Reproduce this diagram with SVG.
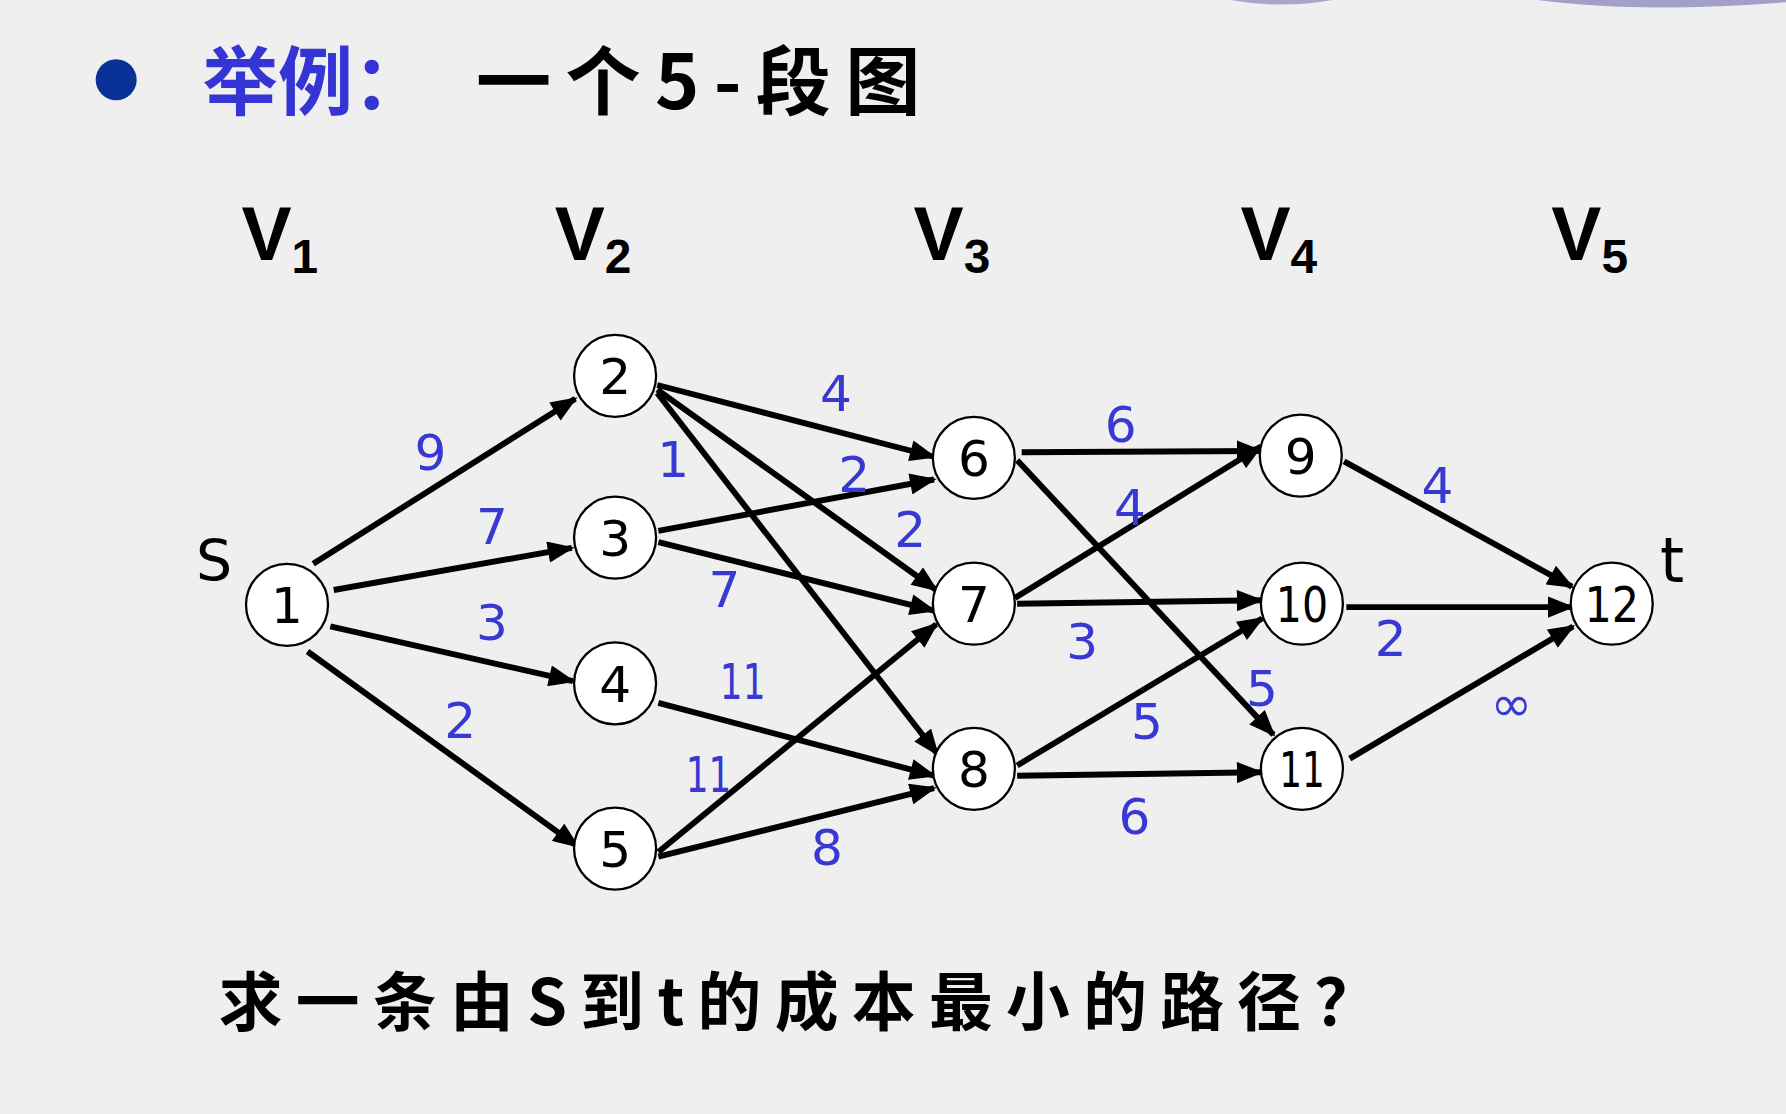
<svg xmlns="http://www.w3.org/2000/svg" width="1786" height="1114" viewBox="0 0 1786 1114">
<style>
.node circle{fill:#ffffff;stroke:#000;stroke-width:2}
.node text{font-family:"DejaVu Sans","Liberation Sans",sans-serif;font-size:44px;fill:#000;text-anchor:middle}
.edge{stroke:#000;stroke-width:5.2;fill:none;marker-end:url(#arr)}
.w{font-family:"DejaVu Sans","Liberation Sans",sans-serif;font-size:44px;fill:#3838d2;text-anchor:middle}
.V{font-family:"Liberation Sans","DejaVu Sans",sans-serif;font-weight:bold;font-size:66px;fill:#000}
.Vs{font-size:42px}
.cn{font-family:"Noto Sans CJK SC","Noto Sans CJK JP",sans-serif;font-weight:bold}
</style>
<defs>
<marker id="arr" viewBox="0 0 10 8" markerWidth="4.6" markerHeight="3.6" refX="9" refY="4" orient="auto">
<path d="M0,0 L10,4 L0,8 Z" fill="#000"/>
</marker>
</defs>
<rect x="0" y="0" width="1786" height="1114" fill="#efefef"/>
<g transform="scale(1.13903)">
<g id="decor">
<path d="M1080,0 Q1125,8 1170,0 Z" fill="#a6a6cc"/>
<path d="M1350,0 Q1440,12 1568,2 L1568,0 Z" fill="#a0a0c8"/>
</g>
<g id="title">
<circle cx="102" cy="70" r="18" fill="#0a3296"/>
<text class="cn" x="178" y="96" font-size="66" fill="#3535d5">举例：</text>
<text class="cn" x="418" y="96" font-size="66" fill="#000" textLength="390" lengthAdjust="spacing">一个5-段图</text>
</g>
<g id="stages">
<text class="V" x="212" y="228">V<tspan class="Vs" dy="12">1</tspan></text>
<text class="V" x="487" y="228">V<tspan class="Vs" dy="12">2</tspan></text>
<text class="V" x="802" y="228">V<tspan class="Vs" dy="12">3</tspan></text>
<text class="V" x="1089" y="228">V<tspan class="Vs" dy="12">4</tspan></text>
<text class="V" x="1362" y="228">V<tspan class="Vs" dy="12">5</tspan></text>
</g>
<g id="connectors">
<line class="edge" x1="275" y1="495" x2="505" y2="350"/>
<line class="edge" x1="293" y1="518" x2="502" y2="481"/>
<line class="edge" x1="290" y1="550" x2="503" y2="598"/>
<line class="edge" x1="270" y1="572" x2="507" y2="743"/>
<line class="edge" x1="577" y1="338" x2="820" y2="401"/>
<line class="edge" x1="577" y1="342" x2="822" y2="518"/>
<line class="edge" x1="577" y1="345" x2="823" y2="662"/>
<line class="edge" x1="578" y1="466" x2="820" y2="421"/>
<line class="edge" x1="578" y1="476" x2="820" y2="536"/>
<line class="edge" x1="578" y1="617" x2="820" y2="681"/>
<line class="edge" x1="578" y1="748" x2="822" y2="548"/>
<line class="edge" x1="578" y1="752" x2="820" y2="692"/>
<line class="edge" x1="897" y1="397" x2="1107" y2="396"/>
<line class="edge" x1="893" y1="404" x2="1118" y2="645"/>
<line class="edge" x1="891" y1="525" x2="1107" y2="392"/>
<line class="edge" x1="893" y1="530" x2="1107" y2="527"/>
<line class="edge" x1="893" y1="672" x2="1108" y2="543"/>
<line class="edge" x1="893" y1="681" x2="1107" y2="678"/>
<line class="edge" x1="1180" y1="405" x2="1380" y2="515"/>
<line class="edge" x1="1182" y1="533" x2="1380" y2="533"/>
<line class="edge" x1="1185" y1="666" x2="1381" y2="550"/>
</g>
<g id="weights">
<text class="w" x="378" y="413">9</text>
<text class="w" x="432" y="478">7</text>
<text class="w" x="432" y="562">3</text>
<text class="w" x="404" y="648">2</text>
<text class="w" x="734" y="361">4</text>
<text class="w" x="591" y="419">1</text>
<text class="w" x="750" y="432">2</text>
<text class="w" x="799" y="480">2</text>
<text class="w" x="636" y="533">7</text>
<text class="w" x="652" y="614" textLength="40" lengthAdjust="spacingAndGlyphs">11</text>
<text class="w" x="622" y="695" textLength="40" lengthAdjust="spacingAndGlyphs">11</text>
<text class="w" x="726" y="759">8</text>
<text class="w" x="984" y="388">6</text>
<text class="w" x="992" y="461">4</text>
<text class="w" x="950" y="579">3</text>
<text class="w" x="1108" y="620">5</text>
<text class="w" x="1007" y="649">5</text>
<text class="w" x="996" y="732">6</text>
<text class="w" x="1262" y="442">4</text>
<text class="w" x="1221" y="576">2</text>
<text class="w" x="1327" y="633" font-size="40">∞</text>
</g>
<g id="n1" class="node"><circle cx="252" cy="531" r="36"/><text x="252" y="547">1</text></g>
<g id="n2" class="node"><circle cx="540" cy="330" r="36"/><text x="540" y="346">2</text></g>
<g id="n3" class="node"><circle cx="540" cy="472" r="36"/><text x="540" y="488">3</text></g>
<g id="n4" class="node"><circle cx="540" cy="600" r="36"/><text x="540" y="616">4</text></g>
<g id="n5" class="node"><circle cx="540" cy="745" r="36"/><text x="540" y="761">5</text></g>
<g id="n6" class="node"><circle cx="855" cy="402" r="36"/><text x="855" y="418">6</text></g>
<g id="n7" class="node"><circle cx="855" cy="530" r="36"/><text x="855" y="546">7</text></g>
<g id="n8" class="node"><circle cx="855" cy="675" r="36"/><text x="855" y="691">8</text></g>
<g id="n9" class="node"><circle cx="1142" cy="400" r="36"/><text x="1142" y="416">9</text></g>
<g id="n10" class="node"><circle cx="1143" cy="530" r="36"/><text x="1143" y="546" textLength="46" lengthAdjust="spacingAndGlyphs">10</text></g>
<g id="n11" class="node"><circle cx="1143" cy="675" r="36"/><text x="1143" y="691" textLength="40" lengthAdjust="spacingAndGlyphs">11</text></g>
<g id="n12" class="node"><circle cx="1415" cy="530" r="36"/><text x="1415" y="546" textLength="48" lengthAdjust="spacingAndGlyphs">12</text></g>
<text x="188" y="510" font-family="DejaVu Sans,Liberation Sans,sans-serif" font-size="50" text-anchor="middle" fill="#000">S</text>
<text x="1468" y="511" font-family="DejaVu Sans,Liberation Sans,sans-serif" font-size="54" text-anchor="middle" fill="#000">t</text>
<text class="cn" x="192" y="900" font-size="56" fill="#000" textLength="1018" lengthAdjust="spacing">求一条由S到t的成本最小的路径？</text>
</g>
</svg>
